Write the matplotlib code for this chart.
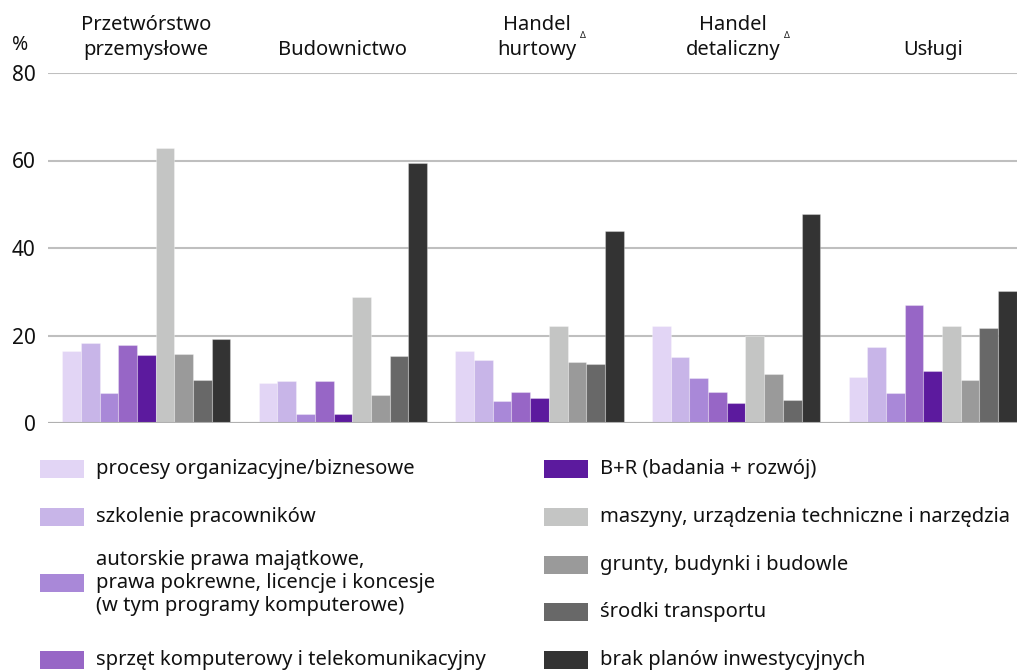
import numpy as np
import matplotlib
matplotlib.use('Agg')
import matplotlib.pyplot as plt
from matplotlib.patches import Rectangle

plt.rcParams['font.family'] = ['Noto Sans', 'DejaVu Sans']

# sectors (x groups)
groups = ['Przetwórstwo\nprzemysłowe', 'Budownictwo', 'Handel\nhurtowy',
          'Handel\ndetaliczny', 'Usługi']
delta_mark = [False, False, True, True, False]

series = ['procesy organizacyjne/biznesowe',
          'szkolenie pracowników',
          'autorskie prawa majątkowe,\nprawa pokrewne, licencje i koncesje\n(w tym programy komputerowe)',
          'sprzęt komputerowy i telekomunikacyjny',
          'B+R (badania + rozwój)',
          'maszyny, urządzenia techniczne i narzędzia',
          'grunty, budynki i budowle',
          'środki transportu',
          'brak planów inwestycyjnych']
colors = ['#e2d5f5', '#c8b5e8', '#a988d8', '#9766c6', '#5c1a9e',
          '#c4c5c4', '#9a9a9a', '#686868', '#333333']

# values in % per series, order of groups as above
procesy = [16.5, 9.2, 16.4, 22.1, 10.6]
szkolenie = [18.2, 9.5, 14.3, 15.0, 17.4]
prawa = [6.9, 2.1, 5.0, 10.2, 6.9]
sprzet = [17.9, 9.5, 7.2, 7.2, 27.0]
br = [15.6, 2.1, 5.7, 4.6, 11.8]
maszyny = [62.9, 28.8, 22.1, 20.0, 22.1]
grunty = [15.8, 6.4, 14.0, 11.1, 9.8]
transport = [9.9, 15.3, 13.4, 5.3, 21.7]
brak = [19.3, 59.4, 43.9, 47.8, 30.1]
values = [procesy, szkolenie, prawa, sprzet, br, maszyny, grunty, transport, brak]

W, H = 1017, 672
fig = plt.figure(figsize=(W / 100, H / 100), dpi=100)
ax = fig.add_axes([48 / W, 249 / H, 983 / W, 350 / H])

x = np.arange(len(groups))
bw = 0.0951
n = len(series)
for i, (vals, c) in enumerate(zip(values, colors)):
    ax.bar(x + (i - (n - 1) / 2) * bw, vals, bw, color=c,
           edgecolor=(1, 1, 1, 0.3), linewidth=0.8, zorder=3)

ax.set_xlim(-0.5, len(groups) - 0.5)
ax.set_ylim(0, 80)
ax.set_yticks([0, 20, 40, 60, 80])
ax.set_xticks([])
ax.grid(axis='y', color='#bfbfbf', linewidth=1.5, zorder=0)
ax.set_axisbelow(True)
for s in ax.spines.values():
    s.set_visible(False)
ax.tick_params(axis='y', length=0, pad=9, labelsize=15, colors='#111111')
ax.axhline(0, color='#b0b0b0', linewidth=1.5, zorder=4)

# "%" label
fig.text(20 / W, 1 - 45 / H, '%', fontsize=14, ha='center', va='center',
         color='#111111')

# group titles
for xi, name, dm in zip(x, groups, delta_mark):
    off = 0.015 if dm else 0
    t = ax.text(xi - off, 1.0 + 13 / 350, name, transform=ax.get_xaxis_transform(),
                ha='center', va='bottom', multialignment='center',
                fontsize=14.5, color='#111111', linespacing=1.3)
    if dm:
        ax.annotate('Δ', xy=(1, 0.45), xycoords=t, xytext=(2.5, 0),
                    textcoords='offset points', fontsize=6.5, va='bottom',
                    ha='left', color='#111111')

# legend (two columns, drawn in figure pixels)
left_rows = [469, 517, 583, 660]
right_rows = [469, 517, 565, 612, 660]
positions = [(40, y) for y in left_rows] + [(544, y) for y in right_rows]
for (px, py), lab, c in zip(positions, series, colors):
    fig.patches.append(Rectangle((px / W, 1 - (py + 9) / H), 44 / W, 18 / H,
                                 transform=fig.transFigure, facecolor=c,
                                 edgecolor='none'))
    fig.text((px + 56) / W, 1 - py / H, lab, fontsize=14.5, ha='left',
             va='center', color='#111111', linespacing=1.2)

fig.savefig('out.png', dpi=100)
